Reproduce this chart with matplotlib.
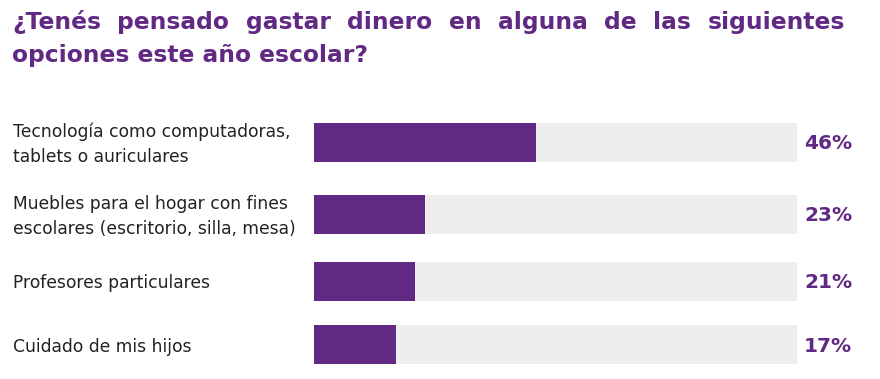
import matplotlib
matplotlib.use("Agg")
import matplotlib.pyplot as plt

# Datos del gráfico
categorias = [
    "Tecnología como computadoras,\ntablets o auriculares",
    "Muebles para el hogar con fines\nescolares (escritorio, silla, mesa)",
    "Profesores particulares",
    "Cuidado de mis hijos",
]
porcentajes = [46, 23, 21, 17]
titulo_linea1 = "¿Tenés pensado gastar dinero en alguna de las siguientes"
titulo_linea2 = "opciones este año escolar?"

PURPLE = "#612983"
GRAY = "#EEEEEE"
TEXT = "#222222"
FONT = "DejaVu Sans"

W, H = 880, 379
fig = plt.figure(figsize=(W / 100, H / 100), dpi=100)

# centros de fila según cantidad de líneas de cada etiqueta
lines = [c.count("\n") + 1 for c in categorias]
centers = [142]
for a, b in zip(lines[:-1], lines[1:]):
    centers.append(centers[-1] + 54 + 4.5 * (a + b))

ax = fig.add_axes([314 / W, 0, 483 / W, 1])
ax.set_xlim(0, 100)
ax.set_ylim(H, 0)
ax.axis("off")
ax.barh(centers, [100] * len(porcentajes), height=39, color=GRAY)
ax.barh(centers, porcentajes, height=39, color=PURPLE)

for cat, val, yc in zip(categorias, porcentajes, centers):
    fig.text(13 / W, 1 - (yc + 2) / H, cat, fontsize=12.3, family=FONT, color=TEXT,
             va="center", ha="left", linespacing=1.5)
    fig.text(852 / W, 1 - (yc + 1.5) / H, f"{val}%", fontsize=14.5, family=FONT,
             fontweight="bold", color=PURPLE, va="center", ha="right")

# título justificado (primera línea) y alineado a la izquierda (segunda)
fig.canvas.draw()
renderer = fig.canvas.get_renderer()
words = titulo_linea1.split()
arts = [fig.text(0, 1 - 29 / H, w, fontsize=16.8, family=FONT, fontweight="bold",
                 color=PURPLE, va="baseline", ha="left") for w in words]
widths = [a.get_window_extent(renderer).width for a in arts]
x0, x1 = 12, 845
gap = (x1 - x0 - sum(widths)) / (len(words) - 1)
x = x0
for a, w in zip(arts, widths):
    a.set_x(x / W)
    x += w + gap
fig.text(x0 / W, 1 - 62 / H, titulo_linea2, fontsize=16.8, family=FONT,
         fontweight="bold", color=PURPLE, va="baseline", ha="left")

fig.savefig("out.png", dpi=100, facecolor="white")
